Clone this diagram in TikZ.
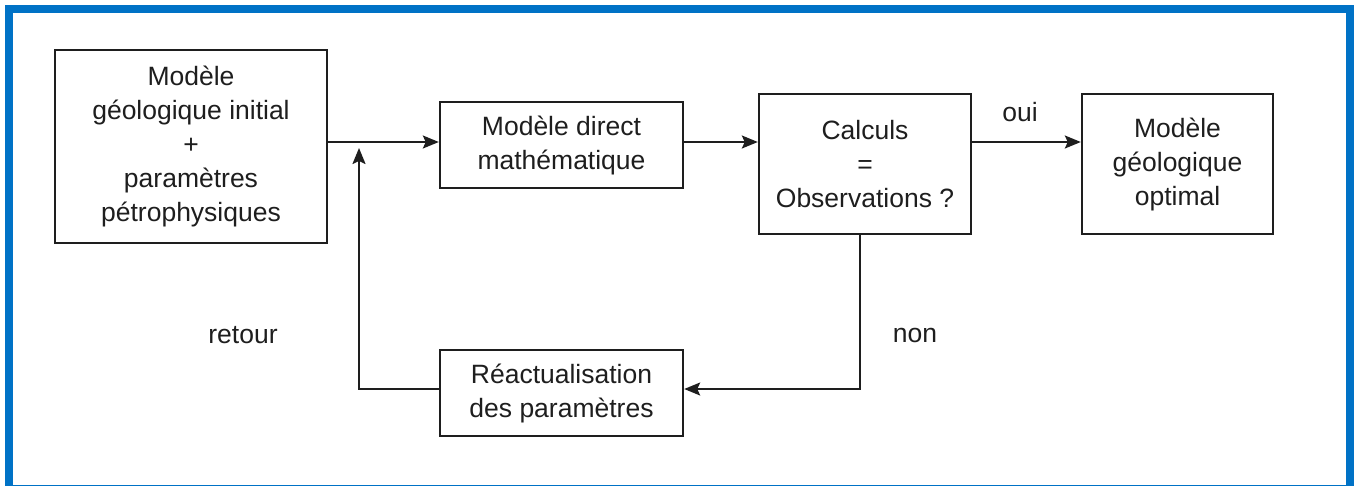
\documentclass[tikz,border=0pt]{standalone}
\usepackage{fontspec}
\setmainfont{Liberation Sans}
\usetikzlibrary{arrows.meta}
\definecolor{frameblue}{RGB}{0,114,198}
\definecolor{ink}{RGB}{30,30,30}
\begin{document}
\begin{tikzpicture}[x=1pt,y=-1pt,
  box/.style={draw=ink, line width=2.4pt, align=center, inner sep=0pt, text=ink,
              font=\fontsize{26.5}{34}\selectfont},
  lbl/.style={text=ink, font=\fontsize{26.5}{34}\selectfont, inner sep=0pt},
  arr/.style={draw=ink, line width=2pt, -{Stealth[length=16pt,width=13pt,inset=3pt]}},
  ln/.style={draw=ink, line width=2pt}]
\useasboundingbox (0,0) rectangle (1359,485);
\draw[frameblue, line width=8pt] (9,9) rectangle (1349.5,489);

\node[box, minimum width=272pt, minimum height=193pt] (b1) at (191,146.5)
  {Modèle\\géologique initial\\+\\paramètres\\pétrophysiques};
\node[box, minimum width=243pt, minimum height=86pt] (b2) at (561.5,145)
  {Modèle direct\\mathématique};
\node[box, minimum width=212pt, minimum height=140pt] (b3) at (865,164)
  {Calculs\\=\\Observations ?};
\node[box, minimum width=191pt, minimum height=140pt] (b4) at (1177.5,164)
  {Modèle\\géologique\\optimal};
\node[box, minimum width=243pt, minimum height=86pt] (b5) at (561.5,393)
  {Réactualisation\\des paramètres};

\coordinate (row) at (0,142);
\coordinate (ret) at (359,148);
\coordinate (down) at (860,0);
\coordinate (back) at (0,389);

\draw[arr] (b1.east |- row) -- (b2.west |- row);
\draw[arr] (b2.east |- row) -- (b3.west |- row);
\draw[arr] (b3.east |- row) -- (b4.west |- row);
\draw[arr] (b3.south -| down) |- (b5.east |- back);
\draw[arr] (b5.west |- back) -| (ret);

\node[lbl] (oui) at (1020,112) {oui};
\node[lbl] (non) at (915,335) {non};
\node[lbl] (retour) at (243,335) {retour};
\end{tikzpicture}
\end{document}
